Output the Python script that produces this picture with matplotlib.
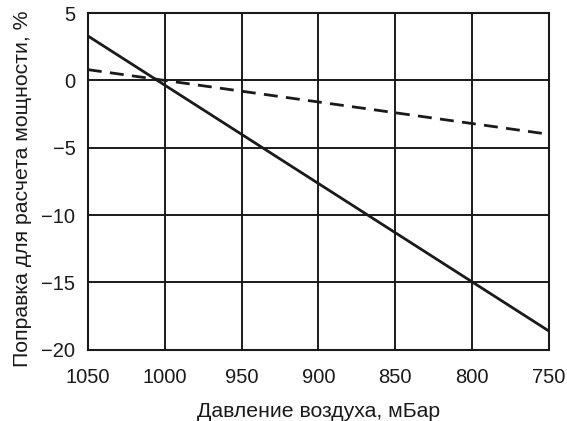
import matplotlib
matplotlib.use("Agg")
import matplotlib.pyplot as plt

plt.rcParams['font.family'] = ['Liberation Sans', 'DejaVu Sans']

pressure = [1050, 750]
solid_corr = [3.3, -18.6]
dashed_corr = [0.8, -4.0]
xticks = [1050, 1000, 950, 900, 850, 800, 750]
yticks = [5, 0, -5, -10, -15, -20]

fig = plt.figure(figsize=(5.67, 4.21), dpi=100)
ax = fig.add_axes([0.155, 0.169, 0.813, 0.8])
ax.set_xlim(1050, 750)
ax.set_ylim(-20, 5)
ax.set_xticks(xticks)
ax.set_yticks(yticks)
ax.grid(True, color='#1a1a1a', linewidth=1.4)
ax.set_axisbelow(True)
for s in ax.spines.values():
    s.set_linewidth(1.5)
    s.set_color('#1a1a1a')
ax.tick_params(length=0, labelsize=14.5, colors='#1a1a1a')
ax.tick_params(axis='x', pad=13)
ax.tick_params(axis='y', pad=9)
ax.plot(pressure, solid_corr, color='#1a1a1a', linewidth=2.0, solid_capstyle='butt')
ax.plot(pressure, dashed_corr, color='#1a1a1a', linewidth=2.0, dashes=(5, 3))
ax.set_xlabel('Давление воздуха, мБар', fontsize=15.3, labelpad=11, color='#1a1a1a')
ax.set_ylabel('Поправка для расчета мощности, %', fontsize=15.3, labelpad=7, color='#1a1a1a')
ax.yaxis.label.set_y(0.478)
fig.savefig('out.png', dpi=100)
